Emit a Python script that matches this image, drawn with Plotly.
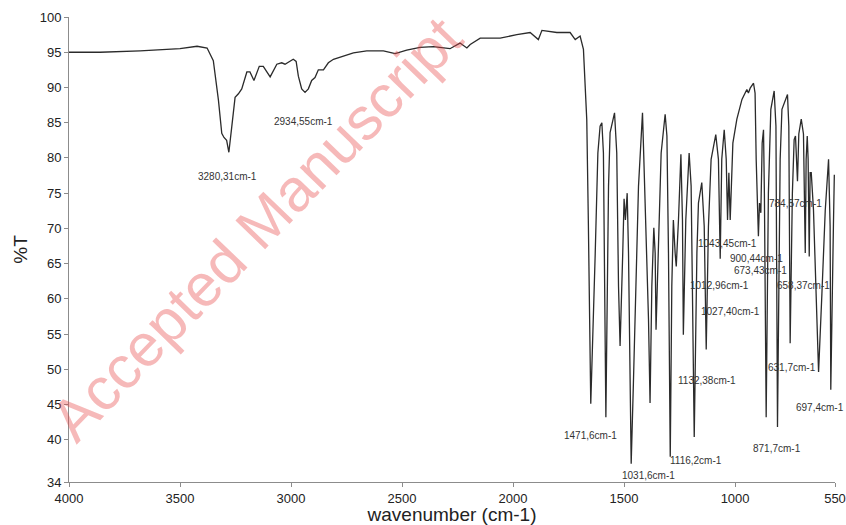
import plotly.graph_objects as go

# ---- Spectrum data (wavenumber cm-1, %T) ----
wavenumber = [4000, 3860, 3680, 3500, 3423, 3378, 3350, 3327, 3312, 3302, 3290, 3280,
              3267, 3252, 3237, 3222, 3199, 3185, 3167, 3143, 3125, 3094, 3064, 3042,
              3027, 3004, 2990, 2977, 2967, 2952, 2937, 2922, 2907, 2892, 2877, 2854,
              2832, 2809, 2764, 2719, 2659, 2584, 2531, 2479, 2419, 2359, 2284, 2239,
              2208, 2193, 2148, 2058, 1983, 1923, 1886, 1870, 1803, 1743, 1720, 1698,
              1683, 1668, 1661, 1650, 1630, 1618, 1608, 1600, 1593, 1582, 1570, 1563,
              1543, 1533, 1525, 1518, 1506, 1500, 1494, 1486, 1480, 1468, 1458, 1450,
              1435, 1417, 1405, 1401, 1390, 1383, 1375, 1366, 1360, 1356, 1345, 1333,
              1315, 1307, 1300, 1292, 1285, 1278, 1270, 1265, 1255, 1244, 1237, 1233,
              1222, 1207, 1198, 1192, 1184, 1172, 1165, 1150, 1139, 1130, 1120, 1108,
              1087, 1075, 1067, 1060, 1049, 1040, 1034, 1028, 1022, 1010, 992, 969,
              947, 940, 932, 917, 910, 905, 899, 895, 890, 884, 878, 872, 868, 860,
              850, 839, 824, 816, 809, 797, 789, 764, 758, 752, 742, 734, 728, 722,
              719, 713, 702, 692, 684, 680, 675, 671, 666, 662, 657, 647, 632, 624,
              609, 594, 579, 572, 569, 560, 557, 553]
transmittance = [95.0, 95.0, 95.2, 95.5, 95.85, 95.6, 93.8, 88.2, 83.5, 82.9, 82.5, 80.8,
                 84.4, 88.6, 89.1, 89.8, 92.2, 92.2, 91.0, 93.0, 93.0, 91.5, 93.3, 93.5,
                 93.3, 93.7, 94.0, 93.7, 91.6, 89.8, 89.3, 89.8, 91.0, 91.4, 92.5, 92.5,
                 93.5, 94.0, 94.4, 94.9, 95.2, 95.2, 94.8, 95.3, 95.7, 95.8, 95.5, 96.3,
                 95.6, 96.1, 97.0, 97.0, 97.5, 97.8, 96.8, 98.1, 97.8, 97.8, 96.8, 97.3,
                 95.4, 85.4, 71.1, 45.1, 66.4, 80.7, 84.5, 85.0, 80.7, 43.2, 76.0, 83.6,
                 86.4, 80.7, 61.8, 53.3, 66.5, 74.2, 71.2, 75.0, 66.5, 36.6, 48.0, 57.1,
                 76.0, 86.4, 74.6, 70.3, 57.1, 45.2, 61.8, 70.1, 66.5, 55.6, 68.9, 80.7,
                 86.2, 83.1, 66.5, 37.6, 61.8, 71.2, 66.5, 64.6, 71.2, 80.5, 71.2, 54.9,
                 71.2, 80.7, 76.0, 57.1, 40.4, 66.5, 73.6, 76.5, 70.3, 52.8, 70.3, 79.8,
                 83.3, 79.8, 65.7, 79.8, 84.0, 79.8, 71.2, 77.9, 71.2, 82.1, 85.5, 88.3,
                 89.7, 89.2, 89.9, 90.6, 89.2, 79.8, 70.3, 68.9, 73.6, 72.2, 82.1, 84.0, 75.0, 43.2,
                 75.0, 86.9, 89.5, 84.5, 41.8, 79.8, 86.9, 89.0, 84.5, 53.7, 75.0, 82.6, 83.1, 76.9,
                 76.7, 83.4, 85.5, 83.4, 66.5, 79.8, 83.1, 79.8, 66.0, 77.9, 77.9, 72.7, 56.2, 49.6,
                 60.7, 72.5, 79.8, 70.3, 47.1, 70.3, 70.6, 77.6]

# ---- Peak labels (text, wavenumber, %T position) ----
label_text = ["3280,31cm-1", "2934,55cm-1", "1471,6cm-1", "1031,6cm-1", "1116,2cm-1",
              "1132,38cm-1", "1043,45cm-1", "900,44cm-1", "673,43cm-1", "1012,96cm-1",
              "658,37cm-1", "1027,40cm-1", "784,57cm-1", "631,7cm-1", "697,4cm-1",
              "871,7cm-1"]
label_wn = [3288, 2944, 1653, 1392, 1177, 1126, 1033, 902, 887, 1072, 692, 1019, 726, 744, 618, 809]
label_t = [77.4, 85.1, 40.6, 34.9, 37.1, 48.4, 67.8, 65.7, 64.0, 61.9, 61.9, 58.2, 73.5, 50.3, 44.6, 38.8]

x_ticks = [4000, 3500, 3000, 2500, 2000, 1500, 1000, 550]
y_ticks = [34, 40, 45, 50, 55, 60, 65, 70, 75, 80, 85, 90, 95, 100]

FONT = "Liberation Sans, Arial, sans-serif"

fig = go.Figure()
fig.add_trace(go.Scatter(x=wavenumber, y=transmittance, mode="lines",
                         line=dict(color="#2b2b2b", width=1.3), hoverinfo="skip",
                         showlegend=False))

annotations = []
# watermark
annotations.append(dict(text="Accepted Manuscript", xref="paper", yref="paper",
                        x=0.245, y=0.545, xanchor="center", yanchor="middle",
                        textangle=-46, showarrow=False,
                        font=dict(family=FONT, size=60, color="rgba(232,70,70,0.38)")))
for t, xw, yt in zip(label_text, label_wn, label_t):
    annotations.append(dict(text=t, x=xw, y=yt, xref="x", yref="y", showarrow=False,
                            xanchor="center", yanchor="middle",
                            font=dict(family=FONT, size=10, color="#333333")))

fig.update_layout(
    width=846, height=525,
    margin=dict(l=69, r=11, t=17, b=43),
    paper_bgcolor="white", plot_bgcolor="white",
    font=dict(family=FONT, color="#222222"),
    annotations=annotations,
    xaxis=dict(range=[4000, 550], tickvals=x_ticks, ticktext=[str(v) for v in x_ticks],
               automargin=False,
               showgrid=False, zeroline=False, showline=True, linecolor="#8c8c8c",
               linewidth=1, ticks="outside", ticklen=4, tickcolor="#8c8c8c",
               tickfont=dict(size=13, color="#222222"),
               title=dict(text="wavenumber (cm-1)", font=dict(size=19, color="#222222"),
                          standoff=3)),
    yaxis=dict(range=[34, 100], tickvals=y_ticks, ticktext=[str(v) for v in y_ticks],
               automargin=False,
               showgrid=False, zeroline=False, showline=True, linecolor="#8c8c8c",
               linewidth=1, ticks="outside", ticklen=4, tickcolor="#8c8c8c",
               tickfont=dict(size=13, color="#222222"),
               title=dict(text="%T", font=dict(size=19, color="#222222"), standoff=7)),
)

fig.write_html("out.html")
